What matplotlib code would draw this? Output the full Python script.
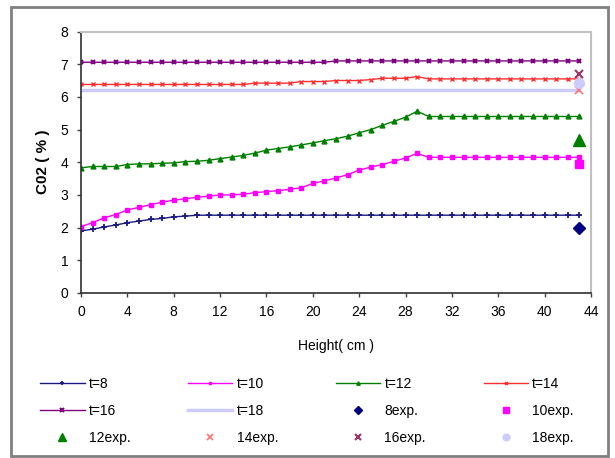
import matplotlib
matplotlib.use("Agg")
import matplotlib.pyplot as plt
from matplotlib.patches import Rectangle

plt.rcParams["font.family"] = ["Liberation Sans", "DejaVu Sans"]

# heights (cm), one point per cm
height = list(range(0, 44))

co2_t8 = [1.90, 1.95, 2.02, 2.08, 2.15, 2.20, 2.25, 2.28, 2.33, 2.35, 2.38] + [2.38] * 33
co2_t10 = [2.03, 2.15, 2.30, 2.40, 2.54, 2.62, 2.70, 2.78, 2.84, 2.88,
           2.93, 2.96, 3.00, 3.00, 3.02, 3.07, 3.10, 3.13, 3.17, 3.22,
           3.35, 3.43, 3.52, 3.62, 3.76, 3.85, 3.93, 4.03, 4.13, 4.27] + [4.15] * 14
co2_t12 = [3.83, 3.87, 3.87, 3.87, 3.93, 3.95, 3.95, 3.97, 3.98, 4.02,
           4.03, 4.06, 4.11, 4.16, 4.21, 4.28, 4.37, 4.42, 4.47, 4.53,
           4.59, 4.66, 4.72, 4.80, 4.90, 5.00, 5.13, 5.25, 5.38, 5.56] + [5.40] * 14
co2_t14 = [6.38] * 15 + [6.42] * 4 + [6.47] * 3 + [6.50] * 3 + [6.53] + [6.57] * 3 + [6.62] + [6.55] * 14
co2_t16 = [7.06] * 22 + [7.10] * 22
co2_t18 = [6.22] * 44

exp_height = 43
exp_t8 = 1.98
exp_t10 = 3.95
exp_t12 = 4.67
exp_t14 = 6.20
exp_t16 = 6.70
exp_t18 = 6.42

xticks = list(range(0, 45, 4))
yticks = list(range(0, 9))

fig = plt.figure(figsize=(6.15, 4.58), dpi=100)
ax = fig.add_axes([0.1317, 0.3603, 0.8293, 0.5709])

h = []
h += ax.plot(height, co2_t8, color="#1a1a80", marker="+", ms=4, mew=1.3, lw=1.0, label="t=8")
h += ax.plot(height, co2_t10, color="#ff00ff", marker="s", ms=3, lw=1.0, label="t=10")
h += ax.plot(height, co2_t12, color="#008000", marker="^", ms=3.5, lw=1.0, label="t=12")
h += ax.plot(height, co2_t14, color="#ff3030", marker="x", ms=3, mew=1.0, lw=1.0, label="t=14")
h += ax.plot(height, co2_t16, color="#800080", marker="x", ms=3.5, mew=1.5, lw=1.0, label="t=16")
h += ax.plot(height, co2_t18, color="#ccccff", lw=2.5, label="t=18")
h += ax.plot([exp_height], [exp_t8], ls="none", color="#000080", marker="D", ms=6, label="8exp.")
h += ax.plot([exp_height], [exp_t10], ls="none", color="#ff00ff", marker="s", ms=6, label="10exp.")
h += ax.plot([exp_height], [exp_t12], ls="none", color="#008000", marker="^", ms=8, label="12exp.")
h += ax.plot([exp_height], [exp_t14], ls="none", color="#ff7070", marker="x", ms=6, mew=1.2, label="14exp.")
h += ax.plot([exp_height], [exp_t16], ls="none", color="#993366", marker="x", ms=6, mew=1.5, label="16exp.")
h += ax.plot([exp_height], [exp_t18], ls="none", color="#ccccff", marker="o", ms=7, label="18exp.")

ax.set_xlim(0, 44)
ax.set_ylim(0, 8)
ax.set_xticks(xticks)
ax.set_yticks(yticks)
ax.tick_params(direction="out", length=3, width=1, color="#404040", labelsize=10, pad=6)
for side in ["left", "bottom"]:
    ax.spines[side].set_color("#303030")
    ax.spines[side].set_linewidth(1.2)
for side in ["top", "right"]:
    ax.spines[side].set_color("#c0c0c0")
    ax.spines[side].set_linewidth(1.5)

ax.set_xlabel("Height( cm )", fontsize=10, labelpad=14)
ax.set_ylabel("C02 ( % )", fontsize=11, fontweight="bold", labelpad=8)

# matplotlib fills legend columns first, reorder so it reads row by row
ncol = 4
nrow = 3
order = [r * ncol + c for c in range(ncol) for r in range(nrow)]
fig.legend([h[i] for i in order], [h[i].get_label() for i in order],
           ncol=ncol, loc="upper left", bbox_to_anchor=(0.045, 0.205),
           frameon=False, fontsize=10, handlelength=3.2, columnspacing=4.15,
           labelspacing=0.95, handletextpad=0.3, markerscale=0.7)

fig.patches.append(Rectangle((11 / 615, 2 / 458), 597 / 615, 449 / 458, transform=fig.transFigure,
                             fill=False, edgecolor="#808080", linewidth=2))

fig.savefig("out.png", dpi=100)
